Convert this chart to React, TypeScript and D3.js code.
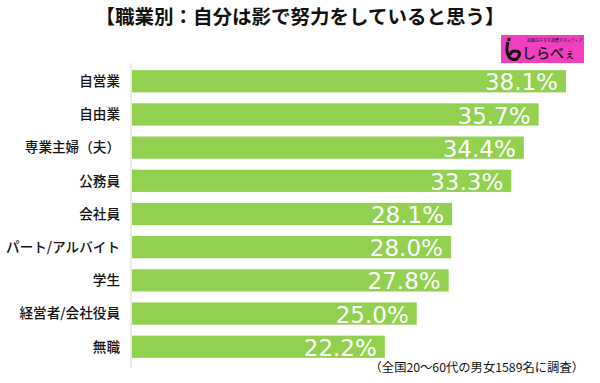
import React from "react";
import * as d3 from "d3";

const categories = ["自営業", "自由業", "専業主婦（夫）", "公務員", "会社員", "パート/アルバイト", "学生", "経営者/会社役員", "無職"];
const values = [38.1, 35.7, 34.4, 33.3, 28.1, 28.0, 27.8, 25.0, 22.2];
const title = "【職業別：自分は影で努力をしていると思う】";
const note = "（全国20〜60代の男女1589名に調査）";

export default function App() {
  const W = 600, H = 383;
  const x = d3.scaleLinear().domain([0, 40]).range([132, 132 + 40 * 11.39]);
  const y = d3.scaleBand<string>().domain(categories).range([64.5, 363.5]).paddingInner(0.33).paddingOuter(0.17);
  const jp = "'Noto Sans CJK JP', 'Noto Sans', sans-serif";
  return (
    <svg width={W} height={H} style={{ position: "absolute", left: 0, top: 0, background: "#fff" }}>
      <text x={300} y={24} textAnchor="middle" fontFamily={jp} fontWeight={700} fontSize={19.5} fill="#111">{title}</text>
      <g>
        <rect x={501} y={35} width={83} height={28} fill="#f23fc0" />
        <path d="M508 42 q-3 10 2 16 q6 4 9 -2 q2 -5 -4 -5 q-4 0 -5 4" stroke="#111" strokeWidth={3} fill="none" />
        <circle cx={509} cy={39.5} r={1.8} fill="#111" />
        <text x={522} y={58} fontFamily={jp} fontWeight={500} fontSize={14} fill="#111">しらべ</text>
        <text x={565} y={58} fontFamily={jp} fontWeight={500} fontSize={10} fill="#111">ぇ</text>
        <text x={527} y={42} fontFamily={jp} fontSize={4} fill="#111">話題のネタを調査するメディア</text>
      </g>
      <line x1={131} x2={131} y1={63} y2={368} stroke="#e3e3e3" strokeWidth={1.5} />
      {categories.map((c, i) => {
        const yy = y(c)!;
        const bh = y.bandwidth();
        return (
          <g key={c}>
            <rect x={x(0)} y={yy} width={x(values[i]) - x(0)} height={bh} fill="#92d050" />
            <text x={120} y={yy + bh / 2} dy="0.35em" textAnchor="end" fontFamily={jp} fontWeight={500} fontSize={13.6} fill="#111">{c}</text>
            <text x={x(values[i]) - 8} y={yy + bh - 2} textAnchor="end" fontFamily="'DejaVu Sans', sans-serif" fontSize={23} fill="#fff">{values[i].toFixed(1)}%</text>
          </g>
        );
      })}
      <text x={584} y={372} textAnchor="end" fontFamily={jp} fontSize={12.3} fill="#111">{note}</text>
    </svg>
  );
}
